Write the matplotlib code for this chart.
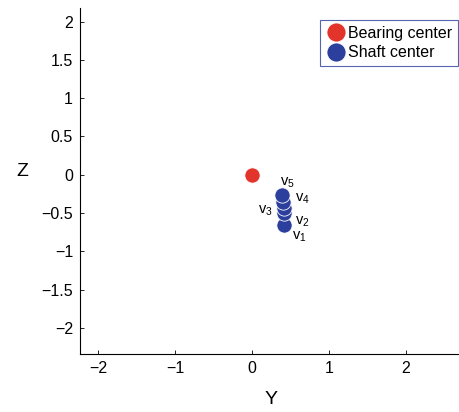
import matplotlib.pyplot as plt

plt.rcParams['font.family'] = ['Liberation Sans', 'DejaVu Sans']
plt.rcParams['mathtext.fontset'] = 'custom'
plt.rcParams['mathtext.rm'] = 'Liberation Sans'
plt.rcParams['mathtext.it'] = 'Liberation Sans'

# bearing center
bearing_y = [0.0]
bearing_z = [0.0]

# shaft center positions v1..v5
shaft_y = [0.42, 0.42, 0.41, 0.40, 0.39]
shaft_z = [-0.66, -0.50, -0.43, -0.35, -0.27]
shaft_labels = ['v$_1$', 'v$_2$', 'v$_3$', 'v$_4$', 'v$_5$']
label_offsets = [(11, -8), (13, -6), (-13, -2), (14, 2), (4, 9)]

y_ticks = [-2, -1.5, -1, -0.5, 0, 0.5, 1, 1.5, 2]
y_tick_labels = ['\u22122', '\u22121.5', '\u22121', '\u22120.5', '0', '0.5', '1', '1.5', '2']
x_ticks = [-2, -1, 0, 1, 2]
x_tick_labels = ['\u22122', '\u22121', '0', '1', '2']

red = '#e3342b'
blue = '#2c3f9c'

fig = plt.figure(figsize=(4.6, 4.12), dpi=100)
ax = fig.add_axes([0.174, 0.141, 0.826, 0.840])

ax.plot(bearing_y, bearing_z, 'o', color=red, markersize=11,
        markeredgecolor='white', markeredgewidth=0.6, label='Bearing center')
ax.plot(shaft_y, shaft_z, 'o', color=blue, markersize=11,
        markeredgecolor='white', markeredgewidth=0.6, label='Shaft center')

for y, z, lab, off in zip(shaft_y, shaft_z, shaft_labels, label_offsets):
    ax.annotate(lab, (y, z), textcoords='offset points', xytext=off,
                ha='center', va='center', fontsize=10.5)

ax.set_xlim(-2.234, 2.70)
ax.set_ylim(-2.34, 2.18)
ax.set_xticks(x_ticks)
ax.set_xticklabels(x_tick_labels)
ax.set_yticks(y_ticks)
ax.set_yticklabels(y_tick_labels)
ax.tick_params(direction='in', length=3, width=0.6, labelsize=11.5, pad=5)
ax.spines['top'].set_visible(False)
ax.spines['right'].set_visible(False)
for s in ['left', 'bottom']:
    ax.spines[s].set_linewidth(0.8)

ax.set_xlabel('Y', fontsize=14, va='center')
ax.set_ylabel('Z', fontsize=14, rotation=0, va='center', ha='center')
ax.xaxis.set_label_coords(0.503, -0.133)
ax.yaxis.set_label_coords(-0.153, 0.526)

leg = ax.legend(loc='upper right', bbox_to_anchor=(0.995, 0.965), fontsize=11.5,
                fancybox=False, borderpad=0.35, handletextpad=0.1,
                handlelength=1.3, labelspacing=0.3, borderaxespad=0,
                markerscale=1.25)
leg.get_frame().set_edgecolor(blue)
leg.get_frame().set_linewidth(0.8)

fig.savefig('out.png', dpi=100)
